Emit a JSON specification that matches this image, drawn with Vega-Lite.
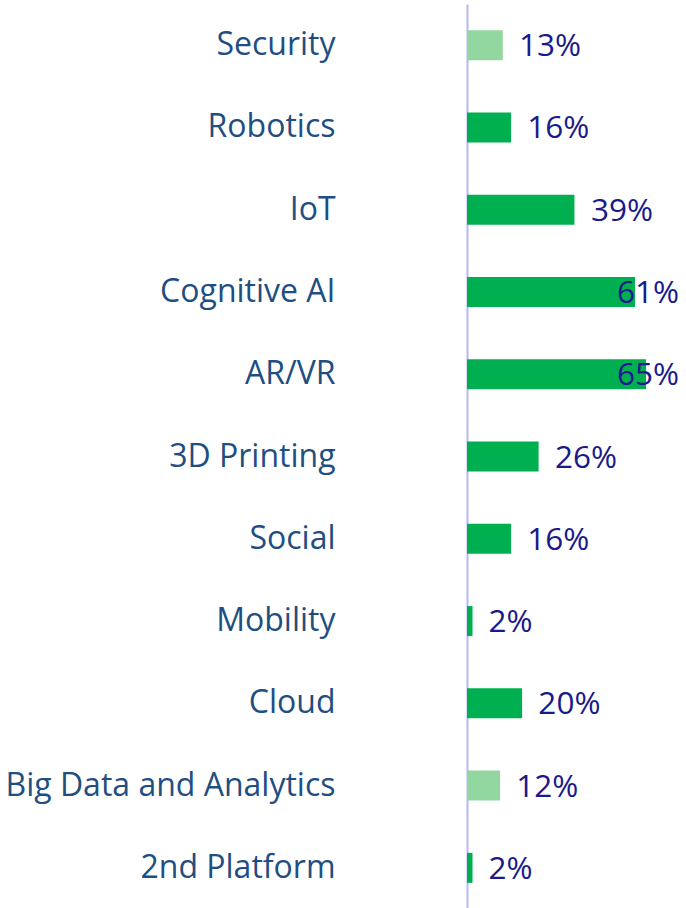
{
  "$schema": "https://vega.github.io/schema/vega-lite/v6.json",
  "width": 219,
  "height": 905,
  "autosize": {"type": "none"},
  "padding": {"left": 467, "top": 4, "right": 0, "bottom": 0},
  "background": "white",
  "config": {"view": {"stroke": null}, "font": "Open Sans"},
  "data": {
    "values": [
      {"category": "Security", "value": 0.13, "group": "light"},
      {"category": "Robotics", "value": 0.16, "group": "dark"},
      {"category": "IoT", "value": 0.39, "group": "dark"},
      {"category": "Cognitive AI", "value": 0.61, "group": "dark"},
      {"category": "AR/VR", "value": 0.65, "group": "dark"},
      {"category": "3D Printing", "value": 0.26, "group": "dark"},
      {"category": "Social", "value": 0.16, "group": "dark"},
      {"category": "Mobility", "value": 0.02, "group": "dark"},
      {"category": "Cloud", "value": 0.20, "group": "dark"},
      {"category": "Big Data and Analytics", "value": 0.12, "group": "light"},
      {"category": "2nd Platform", "value": 0.02, "group": "dark"}
    ]
  },
  "encoding": {
    "y": {
      "field": "category",
      "type": "nominal",
      "sort": null,
      "scale": {"paddingInner": 0, "paddingOuter": 0},
      "axis": {
        "title": null,
        "ticks": false,
        "labelPadding": 132,
        "labelFontSize": 32,
        "labelFont": "Open Sans",
        "labelColor": "#1f4e82",
        "labelLimit": 500,
        "domainColor": "#b8b8f2",
        "domainWidth": 2,
        "grid": false
      }
    }
  },
  "layer": [
    {
      "mark": {"type": "bar", "height": 30},
      "encoding": {
        "x": {"field": "value", "type": "quantitative", "scale": {"domain": [0, 0.795], "nice": false}, "axis": null},
        "color": {
          "field": "group",
          "type": "nominal",
          "scale": {"domain": ["dark", "light"], "range": ["#00b050", "#92d6a0"]},
          "legend": null
        }
      }
    },
    {
      "mark": {"type": "text", "align": "left", "baseline": "middle", "dx": 16, "dy": 2, "fontSize": 31.5, "font": "Open Sans", "color": "#1a1a8c"},
      "encoding": {
        "x": {"field": "value", "type": "quantitative", "scale": {"domain": [0, 0.484], "range": [0, 134], "clamp": true, "nice": false}, "axis": null},
        "text": {"field": "value", "type": "quantitative", "format": ".0%"}
      }
    }
  ],
  "resolve": {"scale": {"x": "independent"}}
}
